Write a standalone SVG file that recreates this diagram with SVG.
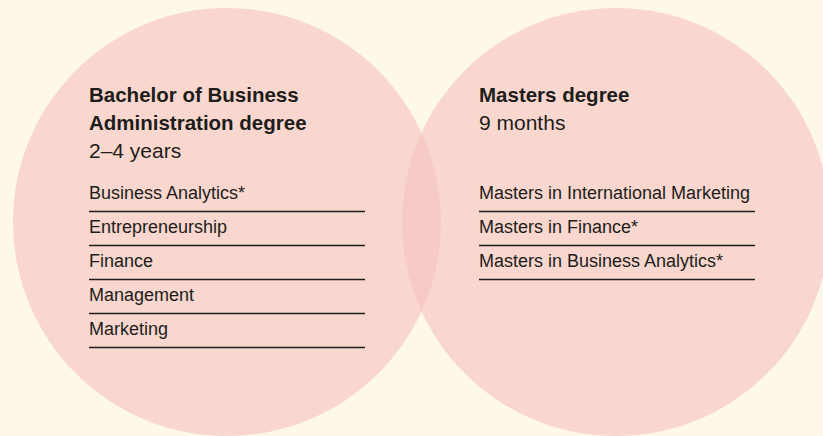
<svg xmlns="http://www.w3.org/2000/svg" width="823" height="436" viewBox="0 0 823 436">
  <style>
    .t { font-family: "Liberation Sans", Arial, sans-serif; fill: #1d1d1b; }
    .h { font-size: 20.5px; font-weight: bold; }
    .s { font-size: 21px; }
    .i { font-size: 18px; }
    .rule { stroke: #1d1d1b; stroke-width: 1.3; }
  </style>
  <defs>
    <clipPath id="leftClip"><circle cx="227" cy="222" r="214"/></clipPath>
  </defs>
  <rect width="823" height="436" fill="#FEF8E8"/>
  <g id="bachelor">
    <circle cx="227" cy="222" r="214" fill="#F9D7CE"/>
  </g>
  <g id="masters">
    <circle cx="616" cy="222" r="214" fill="#F9D7CE"/>
  </g>
  <g id="overlap">
    <circle cx="616" cy="222" r="214" fill="#F6CBC5" clip-path="url(#leftClip)"/>
  </g>
  <g id="bachelor-text">
    <text class="t h" x="89" y="102">Bachelor of Business</text>
    <text class="t h" x="89" y="130">Administration degree</text>
    <text class="t s" x="89" y="158">2–4 years</text>
    <text class="t i" x="89" y="199">Business Analytics*</text>
    <text class="t i" x="89" y="233">Entrepreneurship</text>
    <text class="t i" x="89" y="267">Finance</text>
    <text class="t i" x="89" y="301">Management</text>
    <text class="t i" x="89" y="335">Marketing</text>
  </g>
  <g id="masters-text">
    <text class="t h" x="479" y="102">Masters degree</text>
    <text class="t s" x="479" y="130">9 months</text>
    <text class="t i" x="479" y="199">Masters in International Marketing</text>
    <text class="t i" x="479" y="233">Masters in Finance*</text>
    <text class="t i" x="479" y="267">Masters in Business Analytics*</text>
  </g>
  <g id="connectors">
    <line class="rule" x1="89" y1="211.5" x2="365" y2="211.5"/>
    <line class="rule" x1="89" y1="245.5" x2="365" y2="245.5"/>
    <line class="rule" x1="89" y1="279.5" x2="365" y2="279.5"/>
    <line class="rule" x1="89" y1="313.5" x2="365" y2="313.5"/>
    <line class="rule" x1="89" y1="347.5" x2="365" y2="347.5"/>
    <line class="rule" x1="479" y1="211.5" x2="755" y2="211.5"/>
    <line class="rule" x1="479" y1="245.5" x2="755" y2="245.5"/>
    <line class="rule" x1="479" y1="279.5" x2="755" y2="279.5"/>
  </g>
</svg>
